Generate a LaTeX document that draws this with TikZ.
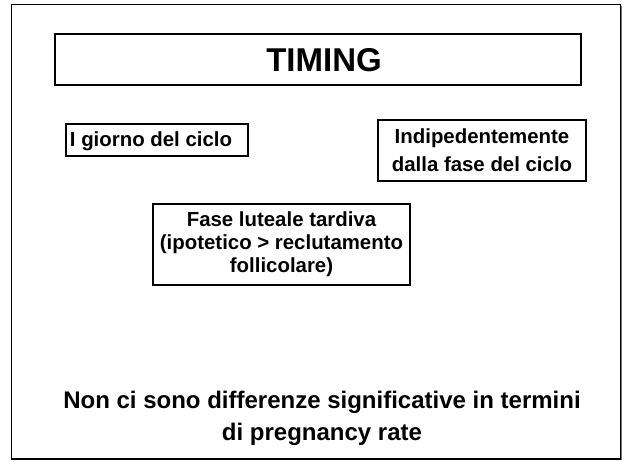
\documentclass[tikz,border=0pt]{standalone}
\usepackage{fontspec}
\setmainfont{Liberation Sans}
\usetikzlibrary{shadows}
\begin{document}
\begin{tikzpicture}[x=1pt,y=-1pt,
  box/.style={draw=black, line width=1.4pt, fill=white, inner sep=0pt, align=center,
    font=\bfseries\fontsize{20.4}{23}\selectfont,
    drop shadow={shadow xshift=1.2pt, shadow yshift=-1.2pt, fill=black!55, opacity=1}},
  plain/.style={inner sep=0pt, align=center}
]
\useasboundingbox (0,0) rectangle (623,461);
\node[box, minimum width=609pt, minimum height=454.5pt] (frame) at (316,231.75) {};
\node[box, minimum width=526pt, minimum height=51pt] (title) at (318,59.5) {};
\node[plain, font=\bfseries\fontsize{33}{38}\selectfont] (titletext) at (324,60) {TIMING};
\node[box, minimum width=182pt, minimum height=32pt] (giorno) at (157,140) {};
\node[plain, font=\bfseries\fontsize{20.4}{23}\selectfont] (giornotext) at (151,141) {I giorno del ciclo};
\node[box, minimum width=208pt, minimum height=61pt, font=\bfseries\fontsize{20.4}{28}\selectfont] (indip) at (482,150.5) {Indipedentemente\\dalla fase del ciclo};
\node[box, minimum width=257pt, minimum height=81pt] (fase) at (281.5,244.5) {Fase luteale tardiva\\(ipotetico > reclutamento\\follicolare)};
\node[plain, font=\bfseries\fontsize{24}{32}\selectfont] (concl) at (322,418) {Non ci sono differenze significative in termini\\di pregnancy rate};
\end{tikzpicture}
\end{document}
